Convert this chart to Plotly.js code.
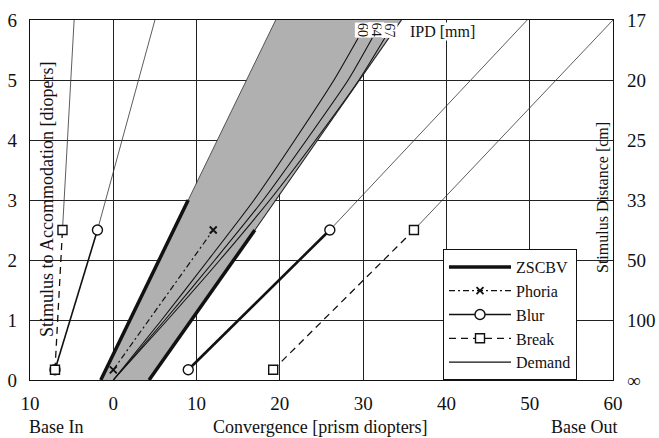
<!DOCTYPE html>
<html><head><meta charset="utf-8">
<script src="https://cdn.plot.ly/plotly-3.0.1.min.js"></script>
<style>
body{margin:0;padding:0;background:#fff}#chart{width:659px;height:438px}
#chart text{font-family:"Liberation Serif","Times New Roman",serif !important;}
</style>
</head><body><div id="chart"></div>
<script>
// ZSCBV region and boundaries (convergence in prism diopters, accommodation in diopters)
const zscbvX = [-1.5, 4.3, 34.6, 19.5, -1.5];
const zscbvY = [0, 0, 6, 6, 0];
const zLeftX = [-1.5, 9.0];  const zLeftY = [0, 3.0];
const zRightX = [4.3, 17.0]; const zRightY = [0, 2.5];
const zEdgeLX = [9.0, 19.5]; const zEdgeLY = [3.0, 6];
const zEdgeRX = [17.0, 34.6]; const zEdgeRY = [2.5, 6];
// Phoria
const phoriaX = [0, 12.0]; const phoriaY = [0.17, 2.5];
// Blur
const blurInX = [-7.0, -1.9]; const blurInY = [0.17, 2.5];
const blurOutX = [9.0, 26.0]; const blurOutY = [0.17, 2.5];
const blurInExtX = [-1.9, 5.0]; const blurInExtY = [2.5, 6];
const blurOutExtX = [26.0, 49.7]; const blurOutExtY = [2.5, 6];
// Break
const breakInX = [-7.0, -6.1]; const breakInY = [0.17, 2.5];
const breakOutX = [19.2, 36.1]; const breakOutY = [0.17, 2.5];
const breakInExtX = [-6.1, -4.7]; const breakInExtY = [2.5, 6];
const breakOutExtX = [36.1, 60.0]; const breakOutExtY = [2.5, 6];
// Demand lines for IPD 60, 64, 67 mm
const demandY = [0, 1, 2, 3, 4, 5, 5.7];
const demand60 = [0, 5.8, 11.4, 16.9, 21.8, 26.5, 29.4];
const demand64 = [0, 6.2, 12.2, 18.0, 23.2, 28.2, 31.1];
const demand67 = [0, 6.5, 12.8, 18.8, 24.3, 29.5, 32.6];
const ipdLabels = ['60', '64', '67'];
// Axis ticks
const xTickVals = [-10, 0, 10, 20, 30, 40, 50, 60];
const xTickText = ['10', '0', '10', '20', '30', '40', '50', '60'];
const yTickVals = [0, 1, 2, 3, 4, 5, 6];
const distTickText = ['∞', '100', '50', '33', '25', '20', '17'];

const F = 'Liberation Serif';
const K = '#111';
const traces = [];
traces.push({x: zscbvX, y: zscbvY, mode: 'lines', fill: 'toself', fillcolor: '#b0b0b0',
  line: {width: 0}, showlegend: false, hoverinfo: 'skip'});
const demands = [demand60, demand64, demand67];
demands.forEach((d, i) => traces.push({x: d, y: demandY, mode: 'lines', name: 'Demand',
  line: {color: K, width: 1.1, shape: 'spline', smoothing: 0.6}, legendgroup: 'dem', showlegend: i === 0, legendrank: 5}));
traces.push({x: zEdgeLX, y: zEdgeLY, mode: 'lines', line: {color: '#333', width: 0.8}, showlegend: false});
traces.push({x: zEdgeRX, y: zEdgeRY, mode: 'lines', line: {color: '#222', width: 1.2}, showlegend: false});
traces.push({x: zLeftX, y: zLeftY, mode: 'lines', name: 'ZSCBV', line: {color: K, width: 3.5},
  legendgroup: 'z', legendrank: 1});
traces.push({x: zRightX, y: zRightY, mode: 'lines', line: {color: K, width: 3.5},
  legendgroup: 'z', showlegend: false});
traces.push({x: phoriaX, y: phoriaY, mode: 'lines+markers', name: 'Phoria',
  line: {color: K, width: 1.2, dash: '6px,3px,2px,3px'},
  marker: {symbol: 'x-thin-open', size: 7, color: K, line: {width: 1.8, color: K}}, legendrank: 2});
const ext = {mode: 'lines', line: {color: '#333', width: 0.8}, showlegend: false};
traces.push(Object.assign({x: blurInExtX, y: blurInExtY}, ext));
traces.push(Object.assign({x: blurOutExtX, y: blurOutExtY}, ext));
traces.push(Object.assign({x: breakInExtX, y: breakInExtY}, ext));
traces.push(Object.assign({x: breakOutExtX, y: breakOutExtY}, ext));
traces.push({x: blurInX, y: blurInY, mode: 'lines+markers', name: 'Blur', legendgroup: 'b', legendrank: 3,
  line: {color: K, width: 1.6}, marker: {symbol: 'circle', size: 10, color: '#fff', line: {color: K, width: 1.4}}});
traces.push({x: blurOutX, y: blurOutY, mode: 'lines+markers', legendgroup: 'b', showlegend: false,
  line: {color: K, width: 2.6}, marker: {symbol: 'circle', size: 10, color: '#fff', line: {color: K, width: 1.4}}});
traces.push({x: breakInX, y: breakInY, mode: 'lines+markers', name: 'Break', legendgroup: 'k', legendrank: 4,
  line: {color: K, width: 1.3, dash: '7px,5px'}, marker: {symbol: 'square', size: 9, color: '#fff', line: {color: K, width: 1.4}}});
traces.push({x: breakOutX, y: breakOutY, mode: 'lines+markers', legendgroup: 'k', showlegend: false,
  line: {color: K, width: 1.3, dash: '7px,5px'}, marker: {symbol: 'square', size: 9, color: '#fff', line: {color: K, width: 1.4}}});
// invisible trace for right axis
traces.push({x: [0], y: [0], yaxis: 'y2', mode: 'markers', marker: {opacity: 0}, showlegend: false, hoverinfo: 'skip'});

const L = 30, T = 20, W = 583, H = 360;
const px = v => (v - L) / W, py = v => (T + H - v) / H;
const annotations = [];
const ipdX = [30.0, 31.6, 33.2];
ipdLabels.forEach((t, i) => annotations.push({x: ipdX[i], y: 5.83, xref: 'x', yref: 'y', text: t,
  xanchor: 'center', yanchor: 'middle',
  showarrow: false, textangle: 90, font: {family: F, size: 14, color: K}, bgcolor: '#fff', borderpad: 0}));
annotations.push({x: px(442), y: py(32), xref: 'paper', yref: 'paper', text: 'IPD [mm]', showarrow: false,
  xanchor: 'center', yanchor: 'middle', font: {family: F, size: 16, color: K}, bgcolor: '#fff', borderpad: 0});
annotations.push({x: px(47), y: py(200), xref: 'paper', yref: 'paper', text: 'Stimulus to Accommodation [diopers]',
  xanchor: 'center', yanchor: 'middle', showarrow: false, textangle: -90, font: {family: F, size: 18, color: K}});
annotations.push({x: px(602), y: py(198), xref: 'paper', yref: 'paper', text: 'Stimulus Distance [cm]',
  xanchor: 'center', yanchor: 'middle', showarrow: false, textangle: -90, font: {family: F, size: 16, color: K}});
annotations.push({x: px(56), y: py(427), xref: 'paper', yref: 'paper', text: 'Base In', showarrow: false,
  xanchor: 'center', yanchor: 'middle', font: {family: F, size: 18, color: K}});
annotations.push({x: px(320), y: py(427), xref: 'paper', yref: 'paper', text: 'Convergence [prism diopters]', showarrow: false,
  xanchor: 'center', yanchor: 'middle', font: {family: F, size: 18, color: K}});
annotations.push({x: px(584), y: py(427), xref: 'paper', yref: 'paper', text: 'Base Out', showarrow: false,
  xanchor: 'center', yanchor: 'middle', font: {family: F, size: 18, color: K}});

const layout = {
  width: 659, height: 438,
  margin: {l: L, r: 659 - L - W, t: T, b: 438 - T - H},
  paper_bgcolor: '#fff', plot_bgcolor: '#fff',
  font: {family: F, color: K},
  showlegend: true,
  legend: {x: px(443), y: 0, xanchor: 'left', yanchor: 'bottom', bgcolor: '#fff',
    bordercolor: K, borderwidth: 1, font: {family: F, size: 16, color: K},
    itemwidth: 62, tracegroupgap: 0, traceorder: 'normal'},
  xaxis: {range: [-10, 60], tickvals: xTickVals, ticktext: xTickText, showgrid: true,
    gridcolor: '#222', gridwidth: 1, zeroline: false, showline: true, mirror: true, linecolor: K, linewidth: 1.3,
    ticks: '', tickfont: {family: F, size: 19, color: K}, ticklabelstandoff: 6},
  yaxis: {range: [0, 6], tickvals: yTickVals, showgrid: true, gridcolor: '#222', gridwidth: 1,
    zeroline: false, showline: true, mirror: true, linecolor: K, linewidth: 1.3,
    ticks: '', tickfont: {family: F, size: 19, color: K}, ticklabelstandoff: 8},
  yaxis2: {range: [0, 6], overlaying: 'y', side: 'right', tickvals: yTickVals, ticktext: distTickText,
    showgrid: false, zeroline: false, showline: false, ticks: '', tickfont: {family: F, size: 19, color: K},
    ticklabelstandoff: 13},
  annotations: annotations
};
Plotly.newPlot('chart', traces, layout, {displayModeBar: false, staticPlot: true});
</script></body></html>
